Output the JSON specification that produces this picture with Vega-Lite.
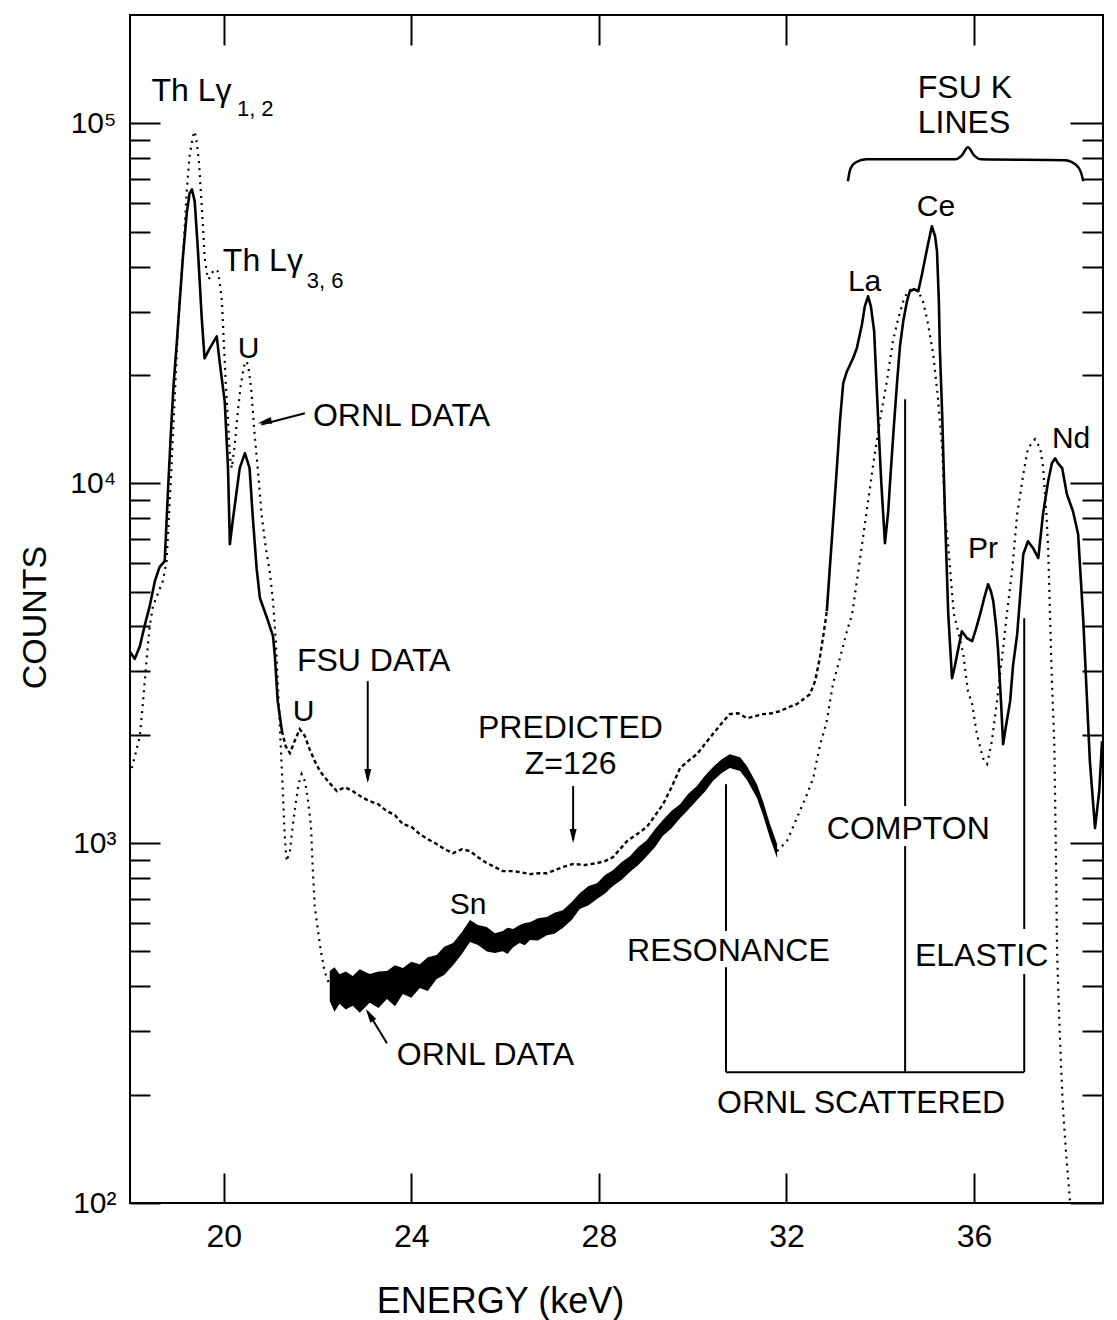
{
  "$schema": "https://vega.github.io/schema/vega-lite/v6.json",
  "width": 973,
  "height": 1188,
  "autosize": {"type": "none"},
  "padding": {"left": 130, "top": 15, "right": 14, "bottom": 117},
  "background": "white",
  "config": {
    "view": {"stroke": "black", "strokeWidth": 2},
    "font": "Liberation Sans",
    "axis": {"grid": false, "domain": false, "tickColor": "black", "tickWidth": 2, "labelColor": "black", "titleColor": "black", "labelFont": "Liberation Sans", "titleFont": "Liberation Sans", "titleFontWeight": "normal"}
  },
  "datasets": {
    "fsu_lines": [
      {"part": "L", "energy": 18.0, "counts": 3400}, {"part": "L", "energy": 18.1, "counts": 3250}, {"part": "L", "energy": 18.21, "counts": 3525}, {"part": "L", "energy": 18.31, "counts": 4007}, {"part": "L", "energy": 18.42, "counts": 4553}, {"part": "L", "energy": 18.53, "counts": 5343}, {"part": "L", "energy": 18.63, "counts": 5845}, {"part": "L", "energy": 18.74, "counts": 6073}, {"part": "L", "energy": 18.78, "counts": 7843}, {"part": "L", "energy": 18.82, "counts": 10130}, {"part": "L", "energy": 18.87, "counts": 13680}, {"part": "L", "energy": 18.93, "counts": 18840}, {"part": "L", "energy": 19.0, "counts": 24800}, {"part": "L", "energy": 19.06, "counts": 32030}, {"part": "L", "energy": 19.13, "counts": 42720}, {"part": "L", "energy": 19.21, "counts": 56230}, {"part": "L", "energy": 19.27, "counts": 63920}, {"part": "L", "energy": 19.32, "counts": 65570}, {"part": "L", "energy": 19.38, "counts": 60700}, {"part": "L", "energy": 19.45, "counts": 44110}, {"part": "L", "energy": 19.53, "counts": 28730}, {"part": "L", "energy": 19.59, "counts": 22240}, {"part": "L", "energy": 19.7, "counts": 23710}, {"part": "L", "energy": 19.85, "counts": 25600}, {"part": "L", "energy": 19.91, "counts": 21820}, {"part": "L", "energy": 20.02, "counts": 16890}, {"part": "L", "energy": 20.09, "counts": 11010}, {"part": "L", "energy": 20.13, "counts": 6770}, {"part": "L", "energy": 20.19, "counts": 7843}, {"part": "L", "energy": 20.34, "counts": 11010}, {"part": "L", "energy": 20.45, "counts": 12120}, {"part": "L", "energy": 20.55, "counts": 11010}, {"part": "L", "energy": 20.62, "counts": 8000}, {"part": "L", "energy": 20.7, "counts": 5806}, {"part": "L", "energy": 20.77, "counts": 4800}, {"part": "L", "energy": 20.92, "counts": 4230}, {"part": "L", "energy": 21.05, "counts": 3758}, {"part": "L", "energy": 21.09, "counts": 3305}, {"part": "L", "energy": 21.15, "counts": 2480}, {"part": "L", "energy": 21.24, "counts": 2048},
      {"part": "K", "energy": 32.86, "counts": 4410}, {"part": "K", "energy": 32.93, "counts": 5957}, {"part": "K", "energy": 33.01, "counts": 8358}, {"part": "K", "energy": 33.08, "counts": 11290}, {"part": "K", "energy": 33.14, "counts": 14870}, {"part": "K", "energy": 33.21, "counts": 18960}, {"part": "K", "energy": 33.29, "counts": 20480}, {"part": "K", "energy": 33.42, "counts": 22240}, {"part": "K", "energy": 33.5, "counts": 23710}, {"part": "K", "energy": 33.61, "counts": 27650}, {"part": "K", "energy": 33.67, "counts": 31010}, {"part": "K", "energy": 33.74, "counts": 33070}, {"part": "K", "energy": 33.8, "counts": 31010}, {"part": "K", "energy": 33.87, "counts": 26430}, {"part": "K", "energy": 33.95, "counts": 15550}, {"part": "K", "energy": 34.02, "counts": 10130}, {"part": "K", "energy": 34.1, "counts": 6813}, {"part": "K", "energy": 34.17, "counts": 8358}, {"part": "K", "energy": 34.21, "counts": 10130}, {"part": "K", "energy": 34.29, "counts": 14400}, {"part": "K", "energy": 34.36, "counts": 19200}, {"part": "K", "energy": 34.42, "counts": 24020}, {"part": "K", "energy": 34.49, "counts": 28180}, {"part": "K", "energy": 34.57, "counts": 32030}, {"part": "K", "energy": 34.63, "counts": 34150}, {"part": "K", "energy": 34.72, "counts": 34590}, {"part": "K", "energy": 34.81, "counts": 34150}, {"part": "K", "energy": 34.89, "counts": 38070}, {"part": "K", "energy": 35.0, "counts": 44970}, {"part": "K", "energy": 35.1, "counts": 51760}, {"part": "K", "energy": 35.17, "counts": 48540}, {"part": "K", "energy": 35.21, "counts": 44110}, {"part": "K", "energy": 35.25, "counts": 32030}, {"part": "K", "energy": 35.27, "counts": 23710}, {"part": "K", "energy": 35.32, "counts": 15550}, {"part": "K", "energy": 35.38, "counts": 8200}, {"part": "K", "energy": 35.45, "counts": 4327}, {"part": "K", "energy": 35.53, "counts": 2872}, {"part": "K", "energy": 35.59, "counts": 3102}, {"part": "K", "energy": 35.64, "counts": 3350}, {"part": "K", "energy": 35.74, "counts": 3880}, {"part": "K", "energy": 35.85, "counts": 3711}, {"part": "K", "energy": 35.96, "counts": 3640}, {"part": "K", "energy": 36.04, "counts": 3930}, {"part": "K", "energy": 36.13, "counts": 4327}, {"part": "K", "energy": 36.21, "counts": 4761}, {"part": "K", "energy": 36.3, "counts": 5241}, {"part": "K", "energy": 36.36, "counts": 5012}, {"part": "K", "energy": 36.41, "counts": 4700}, {"part": "K", "energy": 36.47, "counts": 4007}, {"part": "K", "energy": 36.51, "counts": 3481}, {"part": "K", "energy": 36.58, "counts": 2402}, {"part": "K", "energy": 36.62, "counts": 1884}, {"part": "K", "energy": 36.68, "counts": 2113}, {"part": "K", "energy": 36.77, "counts": 2480}, {"part": "K", "energy": 36.83, "counts": 3102}, {"part": "K", "energy": 36.92, "counts": 3807}, {"part": "K", "energy": 36.98, "counts": 4792}, {"part": "K", "energy": 37.05, "counts": 6350}, {"part": "K", "energy": 37.15, "counts": 6900}, {"part": "K", "energy": 37.26, "counts": 6598}, {"part": "K", "energy": 37.37, "counts": 6190}, {"part": "K", "energy": 37.47, "counts": 8200}, {"part": "K", "energy": 37.58, "counts": 10130}, {"part": "K", "energy": 37.66, "counts": 11360}, {"part": "K", "energy": 37.73, "counts": 11730}, {"part": "K", "energy": 37.79, "counts": 11360}, {"part": "K", "energy": 37.88, "counts": 11010}, {"part": "K", "energy": 37.98, "counts": 9320}, {"part": "K", "energy": 38.11, "counts": 8358}, {"part": "K", "energy": 38.22, "counts": 7217}, {"part": "K", "energy": 38.26, "counts": 5883}, {"part": "K", "energy": 38.33, "counts": 4137}, {"part": "K", "energy": 38.39, "counts": 2818}, {"part": "K", "energy": 38.47, "counts": 1690}, {"part": "K", "energy": 38.58, "counts": 1101}, {"part": "K", "energy": 38.67, "counts": 1395}, {"part": "K", "energy": 38.73, "counts": 1920}
    ],
    "fsu_continuum": [
      {"energy": 21.24, "counts": 2048}, {"energy": 21.32, "counts": 1859}, {"energy": 21.41, "counts": 1778}, {"energy": 21.51, "counts": 1920}, {"energy": 21.62, "counts": 2073}, {"energy": 21.73, "counts": 1983}, {"energy": 21.83, "counts": 1824}, {"energy": 21.94, "counts": 1690}, {"energy": 22.05, "counts": 1585}, {"energy": 22.22, "counts": 1487}, {"energy": 22.41, "counts": 1395}, {"energy": 22.58, "counts": 1430}, {"energy": 22.75, "counts": 1395}, {"energy": 22.94, "counts": 1342}, {"energy": 23.11, "counts": 1308}, {"energy": 23.29, "counts": 1283}, {"energy": 23.48, "counts": 1227}, {"energy": 23.65, "counts": 1196}, {"energy": 23.82, "counts": 1129}, {"energy": 24.01, "counts": 1108}, {"energy": 24.18, "counts": 1059}, {"energy": 24.35, "counts": 1026}, {"energy": 24.54, "counts": 994}, {"energy": 24.71, "counts": 962}, {"energy": 24.89, "counts": 938}, {"energy": 25.08, "counts": 962}, {"energy": 25.25, "counts": 950}, {"energy": 25.42, "counts": 914}, {"energy": 25.61, "counts": 880}, {"energy": 25.78, "counts": 858}, {"energy": 25.95, "counts": 836}, {"energy": 26.14, "counts": 836}, {"energy": 26.31, "counts": 831}, {"energy": 26.53, "counts": 820}, {"energy": 26.74, "counts": 825}, {"energy": 26.89, "counts": 825}, {"energy": 27.06, "counts": 841}, {"energy": 27.23, "counts": 858}, {"energy": 27.45, "counts": 875}, {"energy": 27.7, "counts": 869}, {"energy": 27.96, "counts": 880}, {"energy": 28.13, "counts": 891}, {"energy": 28.3, "counts": 914}, {"energy": 28.45, "counts": 962}, {"energy": 28.6, "counts": 1013}, {"energy": 28.81, "counts": 1059}, {"energy": 29.02, "counts": 1108}, {"energy": 29.19, "counts": 1189}, {"energy": 29.37, "counts": 1283}, {"energy": 29.56, "counts": 1440}, {"energy": 29.73, "counts": 1616}, {"energy": 29.9, "counts": 1690}, {"energy": 30.09, "counts": 1767}, {"energy": 30.26, "counts": 1884}, {"energy": 30.43, "counts": 2009}, {"energy": 30.62, "counts": 2154}, {"energy": 30.79, "counts": 2282}, {"energy": 30.97, "counts": 2296}, {"energy": 31.16, "counts": 2224}, {"energy": 31.33, "counts": 2253}, {"energy": 31.5, "counts": 2282}, {"energy": 31.69, "counts": 2296}, {"energy": 31.86, "counts": 2326}, {"energy": 32.05, "counts": 2387}, {"energy": 32.22, "counts": 2433}, {"energy": 32.39, "counts": 2528}, {"energy": 32.5, "counts": 2594}, {"energy": 32.61, "counts": 2818}, {"energy": 32.71, "counts": 3265}, {"energy": 32.8, "counts": 3880}, {"energy": 32.86, "counts": 4410}
    ],
    "ornl_lines": [
      {"part": "L", "energy": 18.04, "counts": 1616}, {"part": "L", "energy": 18.12, "counts": 1778}, {"part": "L", "energy": 18.21, "counts": 1983}, {"part": "L", "energy": 18.27, "counts": 2402}, {"part": "L", "energy": 18.36, "counts": 3305}, {"part": "L", "energy": 18.42, "counts": 4007}, {"part": "L", "energy": 18.49, "counts": 4553}, {"part": "L", "energy": 18.59, "counts": 4917}, {"part": "L", "energy": 18.7, "counts": 5343}, {"part": "L", "energy": 18.78, "counts": 6073}, {"part": "L", "energy": 18.87, "counts": 10130}, {"part": "L", "energy": 18.95, "counts": 16890}, {"part": "L", "energy": 19.02, "counts": 26430}, {"part": "L", "energy": 19.08, "counts": 35260}, {"part": "L", "energy": 19.15, "counts": 47000}, {"part": "L", "energy": 19.21, "counts": 64740}, {"part": "L", "energy": 19.27, "counts": 81000}, {"part": "L", "energy": 19.34, "counts": 92000}, {"part": "L", "energy": 19.38, "counts": 95000}, {"part": "L", "energy": 19.42, "counts": 89125}, {"part": "L", "energy": 19.47, "counts": 78430}, {"part": "L", "energy": 19.51, "counts": 64740}, {"part": "L", "energy": 19.55, "counts": 53440}, {"part": "L", "energy": 19.59, "counts": 42720}, {"part": "L", "energy": 19.64, "counts": 38310}, {"part": "L", "energy": 19.68, "counts": 36870}, {"part": "L", "energy": 19.74, "counts": 38310}, {"part": "L", "energy": 19.81, "counts": 39300}, {"part": "L", "energy": 19.87, "counts": 38800}, {"part": "L", "energy": 19.91, "counts": 36400}, {"part": "L", "energy": 19.96, "counts": 32030}, {"part": "L", "energy": 20.0, "counts": 24800}, {"part": "L", "energy": 20.04, "counts": 19200}, {"part": "L", "energy": 20.09, "counts": 14870}, {"part": "L", "energy": 20.13, "counts": 11890}, {"part": "L", "energy": 20.17, "counts": 11010}, {"part": "L", "energy": 20.23, "counts": 12670}, {"part": "L", "energy": 20.3, "counts": 15850}, {"part": "L", "energy": 20.36, "counts": 18600}, {"part": "L", "energy": 20.43, "counts": 21130}, {"part": "L", "energy": 20.49, "counts": 21820}, {"part": "L", "energy": 20.53, "counts": 20730}, {"part": "L", "energy": 20.58, "counts": 18600}, {"part": "L", "energy": 20.62, "counts": 15850}, {"part": "L", "energy": 20.66, "counts": 13510}, {"part": "L", "energy": 20.73, "counts": 10800}, {"part": "L", "energy": 20.81, "counts": 8096}, {"part": "L", "energy": 20.9, "counts": 6556}, {"part": "L", "energy": 20.98, "counts": 5694}, {"part": "L", "energy": 21.05, "counts": 4700}, {"part": "L", "energy": 21.11, "counts": 3640}, {"part": "L", "energy": 21.17, "counts": 2480}, {"part": "L", "energy": 21.24, "counts": 1585}, {"part": "L", "energy": 21.3, "counts": 1046}, {"part": "L", "energy": 21.34, "counts": 891}, {"part": "L", "energy": 21.41, "counts": 950}, {"part": "L", "energy": 21.47, "counts": 1115}, {"part": "L", "energy": 21.54, "counts": 1308}, {"part": "L", "energy": 21.6, "counts": 1468}, {"part": "L", "energy": 21.66, "counts": 1555}, {"part": "L", "energy": 21.73, "counts": 1487}, {"part": "L", "energy": 21.79, "counts": 1334}, {"part": "L", "energy": 21.86, "counts": 1115}, {"part": "L", "energy": 21.9, "counts": 836}, {"part": "L", "energy": 21.94, "counts": 668}, {"part": "L", "energy": 22.01, "counts": 570}, {"part": "L", "energy": 22.07, "counts": 501}, {"part": "L", "energy": 22.15, "counts": 441}, {"part": "L", "energy": 22.26, "counts": 401},
      {"part": "K", "energy": 31.8, "counts": 950}, {"part": "K", "energy": 32.01, "counts": 1013}, {"part": "K", "energy": 32.22, "counts": 1173}, {"part": "K", "energy": 32.44, "counts": 1368}, {"part": "K", "energy": 32.57, "counts": 1516}, {"part": "K", "energy": 32.71, "counts": 1859}, {"part": "K", "energy": 32.86, "counts": 2183}, {"part": "K", "energy": 32.99, "counts": 2765}, {"part": "K", "energy": 33.14, "counts": 3265}, {"part": "K", "energy": 33.29, "counts": 3880}, {"part": "K", "energy": 33.4, "counts": 4327}, {"part": "K", "energy": 33.57, "counts": 6190}, {"part": "K", "energy": 33.72, "counts": 8521}, {"part": "K", "energy": 33.85, "counts": 11290}, {"part": "K", "energy": 33.99, "counts": 14870}, {"part": "K", "energy": 34.14, "counts": 19200}, {"part": "K", "energy": 34.27, "counts": 24800}, {"part": "K", "energy": 34.38, "counts": 28550}, {"part": "K", "energy": 34.49, "counts": 32030}, {"part": "K", "energy": 34.59, "counts": 34150}, {"part": "K", "energy": 34.7, "counts": 34810}, {"part": "K", "energy": 34.81, "counts": 34150}, {"part": "K", "energy": 34.91, "counts": 32030}, {"part": "K", "energy": 35.0, "counts": 28550}, {"part": "K", "energy": 35.13, "counts": 22820}, {"part": "K", "energy": 35.23, "counts": 17230}, {"part": "K", "energy": 35.32, "counts": 12510}, {"part": "K", "energy": 35.38, "counts": 8200}, {"part": "K", "energy": 35.45, "counts": 6683}, {"part": "K", "energy": 35.51, "counts": 5343}, {"part": "K", "energy": 35.57, "counts": 4327}, {"part": "K", "energy": 35.66, "counts": 3880}, {"part": "K", "energy": 35.77, "counts": 3350}, {"part": "K", "energy": 35.87, "counts": 2643}, {"part": "K", "energy": 35.96, "counts": 2433}, {"part": "K", "energy": 36.06, "counts": 2009}, {"part": "K", "energy": 36.19, "counts": 1722}, {"part": "K", "energy": 36.28, "counts": 1658}, {"part": "K", "energy": 36.38, "counts": 1920}, {"part": "K", "energy": 36.49, "counts": 2480}, {"part": "K", "energy": 36.6, "counts": 3305}, {"part": "K", "energy": 36.7, "counts": 4327}, {"part": "K", "energy": 36.81, "counts": 5694}, {"part": "K", "energy": 36.92, "counts": 8200}, {"part": "K", "energy": 37.05, "counts": 10590}, {"part": "K", "energy": 37.15, "counts": 12510}, {"part": "K", "energy": 37.3, "counts": 13250}, {"part": "K", "energy": 37.41, "counts": 12510}, {"part": "K", "energy": 37.47, "counts": 11150}, {"part": "K", "energy": 37.54, "counts": 8358}, {"part": "K", "energy": 37.58, "counts": 6598}, {"part": "K", "energy": 37.62, "counts": 4327}, {"part": "K", "energy": 37.66, "counts": 2818}, {"part": "K", "energy": 37.71, "counts": 1920}, {"part": "K", "energy": 37.73, "counts": 1308}, {"part": "K", "energy": 37.75, "counts": 852}, {"part": "K", "energy": 37.77, "counts": 501}, {"part": "K", "energy": 37.81, "counts": 342}, {"part": "K", "energy": 37.86, "counts": 233}, {"part": "K", "energy": 37.9, "counts": 180}, {"part": "K", "energy": 37.96, "counts": 139}, {"part": "K", "energy": 38.05, "counts": 100}
    ],
    "ornl_band": [
      {"energy": 22.26, "lo": 364, "hi": 441}, {"energy": 22.36, "lo": 340, "hi": 452}, {"energy": 22.47, "lo": 358, "hi": 432}, {"energy": 22.6, "lo": 345, "hi": 440}, {"energy": 22.75, "lo": 353, "hi": 427}, {"energy": 22.9, "lo": 338, "hi": 446}, {"energy": 23.11, "lo": 360, "hi": 433}, {"energy": 23.3, "lo": 348, "hi": 440}, {"energy": 23.48, "lo": 369, "hi": 441}, {"energy": 23.65, "lo": 352, "hi": 458}, {"energy": 23.82, "lo": 381, "hi": 450}, {"energy": 24.0, "lo": 372, "hi": 468}, {"energy": 24.18, "lo": 396, "hi": 461}, {"energy": 24.35, "lo": 388, "hi": 482}, {"energy": 24.54, "lo": 419, "hi": 489}, {"energy": 24.7, "lo": 430, "hi": 515}, {"energy": 24.89, "lo": 458, "hi": 528}, {"energy": 25.08, "lo": 492, "hi": 566}, {"energy": 25.25, "lo": 531, "hi": 611}, {"energy": 25.42, "lo": 521, "hi": 592}, {"energy": 25.61, "lo": 500, "hi": 585}, {"energy": 25.78, "lo": 495, "hi": 562}, {"energy": 25.95, "lo": 501, "hi": 570}, {"energy": 26.05, "lo": 492, "hi": 582}, {"energy": 26.17, "lo": 514, "hi": 577}, {"energy": 26.31, "lo": 528, "hi": 592}, {"energy": 26.42, "lo": 520, "hi": 600}, {"energy": 26.53, "lo": 538, "hi": 603}, {"energy": 26.7, "lo": 536, "hi": 618}, {"energy": 26.89, "lo": 555, "hi": 623}, {"energy": 27.05, "lo": 560, "hi": 640}, {"energy": 27.23, "lo": 581, "hi": 651}, {"energy": 27.42, "lo": 611, "hi": 686}, {"energy": 27.59, "lo": 656, "hi": 726}, {"energy": 27.78, "lo": 672, "hi": 760}, {"energy": 27.96, "lo": 699, "hi": 774}, {"energy": 28.13, "lo": 725, "hi": 815}, {"energy": 28.3, "lo": 760, "hi": 841}, {"energy": 28.48, "lo": 790, "hi": 885}, {"energy": 28.66, "lo": 831, "hi": 920}, {"energy": 28.84, "lo": 870, "hi": 975}, {"energy": 29.02, "lo": 920, "hi": 1019}, {"energy": 29.2, "lo": 975, "hi": 1095}, {"energy": 29.36, "lo": 1046, "hi": 1158}, {"energy": 29.55, "lo": 1100, "hi": 1230}, {"energy": 29.73, "lo": 1173, "hi": 1283}, {"energy": 29.9, "lo": 1235, "hi": 1370}, {"energy": 30.09, "lo": 1316, "hi": 1440}, {"energy": 30.26, "lo": 1390, "hi": 1540}, {"energy": 30.43, "lo": 1487, "hi": 1626}, {"energy": 30.62, "lo": 1565, "hi": 1711}, {"energy": 30.79, "lo": 1616, "hi": 1767}, {"energy": 31.01, "lo": 1585, "hi": 1733}, {"energy": 31.16, "lo": 1496, "hi": 1636}, {"energy": 31.37, "lo": 1334, "hi": 1458}, {"energy": 31.5, "lo": 1196, "hi": 1308}, {"energy": 31.65, "lo": 1032, "hi": 1129}, {"energy": 31.8, "lo": 908, "hi": 994}
    ],
    "brace": [
      {"energy": 33.31, "counts": 69020}, {"energy": 33.36, "counts": 74540}, {"energy": 33.48, "counts": 77950}, {"energy": 33.7, "counts": 79430}, {"energy": 35.6, "counts": 79430}, {"energy": 35.74, "counts": 81490}, {"energy": 35.87, "counts": 85770}, {"energy": 36.0, "counts": 81490}, {"energy": 36.15, "counts": 79430}, {"energy": 37.94, "counts": 78930}, {"energy": 38.16, "counts": 76930}, {"energy": 38.28, "counts": 73080}, {"energy": 38.33, "counts": 69020}
    ],
    "segments": [
      {"energy": 30.71, "counts": 1458, "energy2": 30.71, "counts2": 570},
      {"energy": 30.71, "counts": 452, "energy2": 30.71, "counts2": 231},
      {"energy": 34.53, "counts": 17110, "energy2": 34.53, "counts2": 1267},
      {"energy": 34.53, "counts": 981, "energy2": 34.53, "counts2": 231},
      {"energy": 37.07, "counts": 4217, "energy2": 37.07, "counts2": 577},
      {"energy": 37.07, "counts": 433, "energy2": 37.07, "counts2": 231},
      {"energy": 30.71, "counts": 231, "energy2": 37.07, "counts2": 231},
      {"energy": 21.73, "counts": 15640, "energy2": 20.8, "counts2": 14560},
      {"energy": 23.07, "counts": 2818, "energy2": 23.07, "counts2": 1500},
      {"energy": 27.45, "counts": 1440, "energy2": 27.45, "counts2": 1020},
      {"energy": 23.48, "counts": 278, "energy2": 23.07, "counts2": 340}
    ],
    "heads": [
      {"dir": "left", "energy": 20.725, "counts": 14680},
      {"dir": "down", "energy": 23.07, "counts": 1468},
      {"dir": "down", "energy": 27.45, "counts": 1000},
      {"dir": "upleft", "energy": 23.03, "counts": 346}
    ],
    "labels_big": [
      {"label": "Th Lγ", "energy": 18.46, "counts": 115100},
      {"label": "Th Lγ", "energy": 19.98, "counts": 38800},
      {"label": "ORNL DATA", "energy": 21.9, "counts": 14400},
      {"label": "FSU DATA", "energy": 21.56, "counts": 3004},
      {"label": "PREDICTED", "energy": 25.42, "counts": 1957},
      {"label": "Z=126", "energy": 26.42, "counts": 1555},
      {"label": "ORNL DATA", "energy": 23.69, "counts": 242},
      {"label": "RESONANCE", "energy": 28.6, "counts": 470},
      {"label": "COMPTON", "energy": 32.86, "counts": 1026},
      {"label": "ELASTIC", "energy": 34.74, "counts": 455},
      {"label": "ORNL SCATTERED", "energy": 30.52, "counts": 178},
      {"label": "FSU K", "energy": 34.8, "counts": 117300},
      {"label": "LINES", "energy": 34.8, "counts": 93800}
    ],
    "labels_elem": [
      {"label": "U", "energy": 20.3, "counts": 22240},
      {"label": "U", "energy": 21.47, "counts": 2183},
      {"label": "Sn", "energy": 24.82, "counts": 635},
      {"label": "La", "energy": 33.31, "counts": 34150},
      {"label": "Ce", "energy": 34.78, "counts": 55160},
      {"label": "Pr", "energy": 35.87, "counts": 6190},
      {"label": "Nd", "energy": 37.66, "counts": 12510}
    ],
    "labels_sub": [
      {"label": "1, 2", "energy": 20.28, "counts": 104600},
      {"label": "3, 6", "energy": 21.77, "counts": 34810}
    ]
  },
  "resolve": {"scale": {"x": "shared", "y": "shared"}, "axis": {"x": "independent", "y": "independent"}},
  "layer": [
    {
      "data": {"name": "fsu_lines"},
      "mark": {"type": "line", "stroke": "black", "strokeWidth": 2.6, "strokeJoin": "round"},
      "encoding": {
        "x": {"field": "energy", "type": "quantitative", "scale": {"domain": [18, 38.75], "nice": false, "zero": false},
              "axis": {"orient": "bottom", "values": [20, 24, 28, 32, 36], "ticks": false, "labels": true, "labelFontSize": 32, "labelPadding": 18, "title": "ENERGY (keV)", "titleFontSize": 36, "titleX": 370, "titleY": 109, "titleBaseline": "alphabetic", "titleAlign": "center", "titleAnchor": null}},
        "y": {"field": "counts", "type": "quantitative", "scale": {"type": "log", "domain": [100, 200000], "nice": false},
              "axis": {"orient": "left", "values": [100, 1000, 10000, 100000], "ticks": false, "labelFontSize": 30, "labelPadding": 14, "labelExpr": "datum.value == 100 ? '10²' : datum.value == 1000 ? '10³' : datum.value == 10000 ? '10⁴' : '10⁵'", "title": "COUNTS", "titleFontSize": 34, "titleAngle": 270, "titleX": -85, "titleY": 602, "titleBaseline": "alphabetic", "titleAlign": "center"}},
        "detail": {"field": "part"}
      }
    },
    {
      "data": {"name": "fsu_continuum"},
      "mark": {"type": "line", "stroke": "black", "strokeWidth": 2.4, "strokeDash": [4, 3]},
      "encoding": {
        "x": {"field": "energy", "type": "quantitative", "axis": {"orient": "bottom", "values": [20, 24, 28, 32, 36], "labels": false, "tickSize": -30, "title": null}},
        "y": {"field": "counts", "type": "quantitative", "scale": {"type": "log"}, "axis": {"orient": "left", "values": [100, 1000, 10000, 100000], "labels": false, "tickSize": -30, "title": null}}
      }
    },
    {
      "data": {"name": "ornl_lines"},
      "mark": {"type": "line", "stroke": "black", "strokeWidth": 2.2, "strokeDash": [2, 5]},
      "encoding": {
        "x": {"field": "energy", "type": "quantitative", "axis": {"orient": "top", "values": [20, 24, 28, 32, 36], "labels": false, "tickSize": -30, "title": null}},
        "y": {"field": "counts", "type": "quantitative", "scale": {"type": "log"}, "axis": {"orient": "left", "values": [200, 300, 400, 500, 600, 700, 800, 900, 2000, 3000, 4000, 5000, 6000, 7000, 8000, 9000, 20000, 30000, 40000, 50000, 60000, 70000, 80000, 90000], "labels": false, "tickSize": -20, "title": null}},
        "detail": {"field": "part"}
      }
    },
    {
      "data": {"name": "ornl_band"},
      "mark": {"type": "area", "color": "black"},
      "encoding": {
        "x": {"field": "energy", "type": "quantitative", "axis": null},
        "y": {"field": "lo", "type": "quantitative", "scale": {"type": "log"}, "axis": {"orient": "right", "values": [100, 1000, 10000, 100000], "labels": false, "tickSize": -33, "title": null}},
        "y2": {"field": "hi"}
      }
    },
    {
      "data": {"name": "brace"},
      "mark": {"type": "line", "stroke": "black", "strokeWidth": 2.5, "interpolate": "monotone"},
      "encoding": {
        "x": {"field": "energy", "type": "quantitative", "axis": null},
        "y": {"field": "counts", "type": "quantitative", "scale": {"type": "log"}, "axis": {"orient": "right", "values": [200, 300, 400, 500, 600, 700, 800, 900, 2000, 3000, 4000, 5000, 6000, 7000, 8000, 9000, 20000, 30000, 40000, 50000, 60000, 70000, 80000, 90000], "labels": false, "tickSize": -21, "title": null}}
      }
    },
    {
      "data": {"name": "segments"},
      "mark": {"type": "rule", "stroke": "black", "strokeWidth": 2},
      "encoding": {
        "x": {"field": "energy", "type": "quantitative", "axis": null},
        "y": {"field": "counts", "type": "quantitative", "scale": {"type": "log"}, "axis": null},
        "x2": {"field": "energy2"},
        "y2": {"field": "counts2"}
      }
    },
    {
      "data": {"name": "heads"},
      "transform": [{"filter": "datum.dir == 'left'"}],
      "mark": {"type": "point", "shape": "M0,0L2,-0.5L2,0.5Z", "filled": true, "color": "black", "opacity": 1, "size": 196, "angle": -12},
      "encoding": {
        "x": {"field": "energy", "type": "quantitative", "axis": null},
        "y": {"field": "counts", "type": "quantitative", "scale": {"type": "log"}, "axis": null}
      }
    },
    {
      "data": {"name": "heads"},
      "transform": [{"filter": "datum.dir == 'down'"}],
      "mark": {"type": "point", "shape": "M0,0L2,-0.5L2,0.5Z", "filled": true, "color": "black", "opacity": 1, "size": 196, "angle": -90},
      "encoding": {
        "x": {"field": "energy", "type": "quantitative", "axis": null},
        "y": {"field": "counts", "type": "quantitative", "scale": {"type": "log"}, "axis": null}
      }
    },
    {
      "data": {"name": "heads"},
      "transform": [{"filter": "datum.dir == 'upleft'"}],
      "mark": {"type": "point", "shape": "M0,0L2,-0.5L2,0.5Z", "filled": true, "color": "black", "opacity": 1, "size": 196, "angle": 58},
      "encoding": {
        "x": {"field": "energy", "type": "quantitative", "axis": null},
        "y": {"field": "counts", "type": "quantitative", "scale": {"type": "log"}, "axis": null}
      }
    },
    {
      "data": {"name": "labels_big"},
      "mark": {"type": "text", "align": "left", "baseline": "alphabetic", "fontSize": 32, "font": "Liberation Sans", "color": "black"},
      "encoding": {
        "x": {"field": "energy", "type": "quantitative", "axis": null},
        "y": {"field": "counts", "type": "quantitative", "scale": {"type": "log"}, "axis": null},
        "text": {"field": "label"}
      }
    },
    {
      "data": {"name": "labels_elem"},
      "mark": {"type": "text", "align": "left", "baseline": "alphabetic", "fontSize": 30, "font": "Liberation Sans", "color": "black"},
      "encoding": {
        "x": {"field": "energy", "type": "quantitative", "axis": null},
        "y": {"field": "counts", "type": "quantitative", "scale": {"type": "log"}, "axis": null},
        "text": {"field": "label"}
      }
    },
    {
      "data": {"name": "labels_sub"},
      "mark": {"type": "text", "align": "left", "baseline": "alphabetic", "fontSize": 22, "font": "Liberation Sans", "color": "black"},
      "encoding": {
        "x": {"field": "energy", "type": "quantitative", "axis": null},
        "y": {"field": "counts", "type": "quantitative", "scale": {"type": "log"}, "axis": null},
        "text": {"field": "label"}
      }
    }
  ]
}
